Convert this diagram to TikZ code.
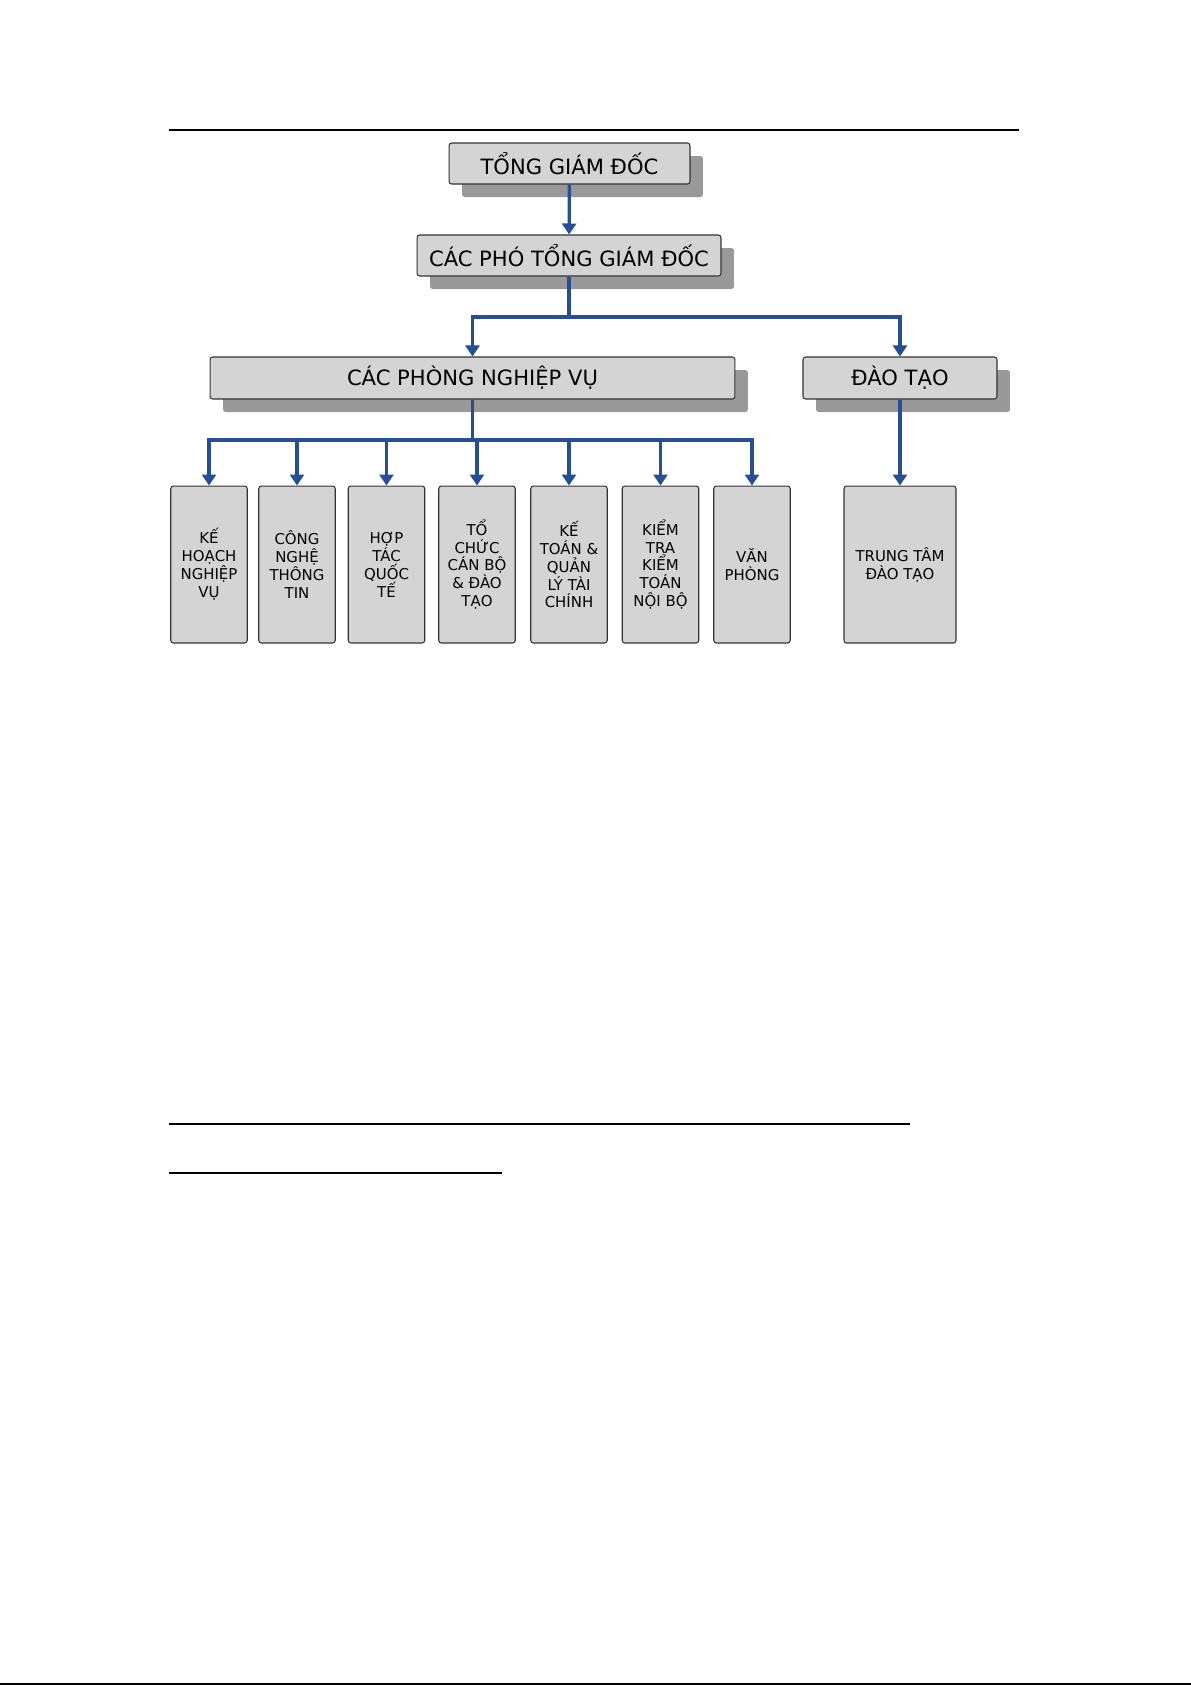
\documentclass[tikz,border=0pt]{standalone}
\usepackage{fontspec}
\setmainfont{DejaVu Sans}
\usepackage{tikz}
\usetikzlibrary{arrows.meta,shadows}
\definecolor{boxgray}{RGB}{212,212,212}
\definecolor{linkblue}{RGB}{38,78,148}

\begin{document}
\begin{tikzpicture}[x=0.02cm,y=-0.02cm]
    \tikzset{
      bigbox/.style={draw=black!80, fill=boxgray, rounded corners=1.5pt, line width=0.6pt,
        minimum height=0.82cm, font=\fontsize{12}{14}\selectfont,
        drop shadow={shadow xshift=0.26cm, shadow yshift=-0.26cm, fill=black!40, opacity=1}},
      unitbox/.style={draw=black!80, fill=boxgray, rounded corners=1.5pt, line width=0.6pt,
        minimum width=1.53cm, minimum height=3.14cm, align=center, font=\fontsize{8.5}{10.2}\selectfont},
      link/.style={draw=linkblue, line width=1.9pt, -{Triangle[length=0.22cm,width=0.28cm]}},
      bus/.style={draw=linkblue, line width=1.9pt}
    }
    \useasboundingbox (0,0) rectangle (1191,1685);
    \draw [line width=1.3pt] (169,130) -- (1019,130);
    \node [bigbox, minimum width=4.82cm] (tgd) at (569.5,163.5) {TỔNG GIÁM ĐỐC};
    \node [bigbox, minimum width=6.08cm] (pho) at (569,255.5) {CÁC PHÓ TỔNG GIÁM ĐỐC};
    \node [bigbox, minimum width=10.5cm, minimum height=0.84cm] (phong) at (472.5,378) {CÁC PHÒNG NGHIỆP VỤ};
    \node [bigbox, minimum width=3.88cm, minimum height=0.84cm] (dt) at (900,378) {ĐÀO TẠO};
    \node [unitbox] (kh) at (209,564.5) {KẾ\\HOẠCH\\NGHIỆP\\VỤ};
    \node [unitbox] (cn) at (297,564.5) {CÔNG\\NGHỆ\\THÔNG\\TIN};
    \node [unitbox] (ht) at (386.5,564.5) {HỢP\\TÁC\\QUỐC\\TẾ};
    \node [unitbox] (tc) at (477,564.5) {TỔ\\CHỨC\\CÁN BỘ\\\& ĐÀO\\TẠO};
    \node [unitbox] (kt) at (569,564.5) {KẾ\\TOÁN \&\\QUẢN\\LÝ TÀI\\CHÍNH};
    \node [unitbox] (ktr) at (660.5,564.5) {KIỂM\\TRA\\KIỂM\\TOÁN\\NỘI BỘ};
    \node [unitbox] (vp) at (752,564.5) {VĂN\\PHÒNG};
    \node [unitbox, minimum width=2.24cm] (ttdt) at (900,564.5) {TRUNG TÂM\\ĐÀO TẠO};
    \coordinate (bus1) at (569,317);
    \coordinate (bus2) at (472.5,440);
    \draw [link] (tgd) -- (pho);
    \draw [bus] (pho.south) -- (bus1);
    \draw [link] (bus1) -| (phong.north);
    \draw [link] (bus1) -| (dt.north);
    \draw [bus] (phong.south) -- (bus2);
    \foreach \u in {kh,cn,ht,tc,kt,ktr,vp}
      \draw [link] (bus2) -| (\u.north);
    \draw [link] (dt) -- (ttdt);
    \draw [line width=1.5pt] (169,1124) -- (910,1124);
    \draw [line width=1pt] (169,1173) -- (502,1173);
    \draw [line width=1pt] (0,1684) -- (1191,1684);
\end{tikzpicture}
\end{document}
